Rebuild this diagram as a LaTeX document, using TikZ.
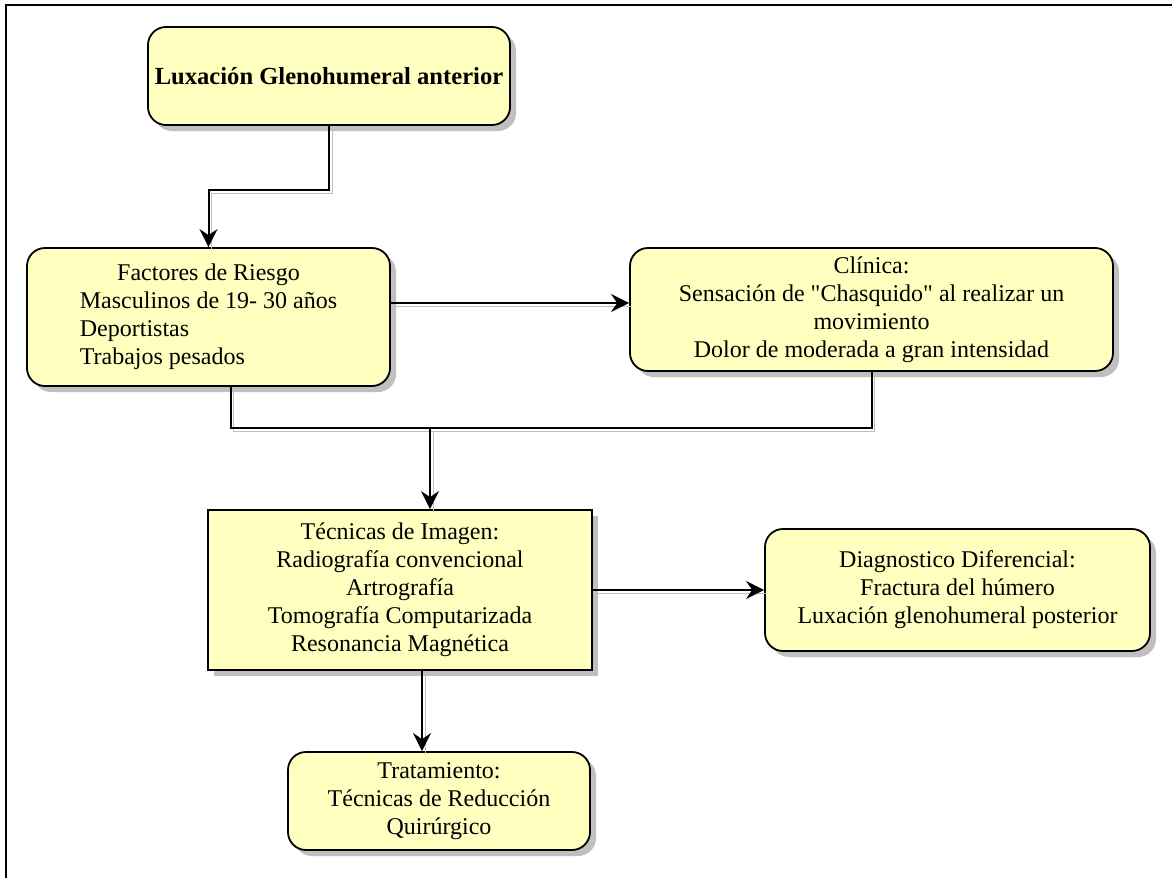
\documentclass[tikz,border=0pt]{standalone}
\usepackage{fontspec}
\newfontfamily\boxfont{Liberation Serif}
\usetikzlibrary{arrows.meta,shadows}

\definecolor{notefill}{RGB}{255,255,192}

\begin{document}
\begin{tikzpicture}[x=0.5pt,y=-0.5pt,
  box/.style={draw=black, line width=0.9pt, fill=notefill, rounded corners=9pt,
    drop shadow={shadow xshift=3pt,shadow yshift=-3pt,fill=black!25,opacity=1},
    font=\boxfont\fontsize{12}{14}\selectfont, align=center, inner sep=0pt},
  sqbox/.style={box, sharp corners},
  link/.style={draw=black, line width=1pt,
    preaction={draw=black!25, -, transform canvas={shift={(1.6pt,-1.6pt)}}}},
  conn/.style={link, -{Stealth[length=9pt,width=9pt,inset=3pt]}}]
\useasboundingbox (0,0) rectangle (1172,878);

% frame
\draw[line width=1pt] (6,878) -- (6,5) -- (1172,5);

% boxes
\node[box, minimum width=181pt, minimum height=49pt, font=\boxfont\fontsize{12.3}{14}\selectfont\bfseries] (lux) at (329,76) {Luxación Glenohumeral anterior};
\node[box, minimum width=181.5pt, minimum height=69pt] (riesgo) at (208.5,317)
  {\begin{tabular}{@{}l@{}}\multicolumn{1}{@{}c@{}}{Factores de Riesgo}\\ Masculinos de 19- 30 años\\ Deportistas\\ Trabajos pesados\end{tabular}};
\node[box, minimum width=241.5pt, minimum height=61.5pt] (clinica) at (871.5,309.5)
  {Clínica:\\ Sensación de "Chasquido" al realizar un\\ movimiento\\ Dolor de moderada a gran intensidad};
\node[sqbox, minimum width=192pt, minimum height=80pt] (imagen) at (400,590)
  {Técnicas de Imagen:\\ Radiografía convencional\\ Artrografía\\ Tomografía Computarizada\\ Resonancia Magnética};
\node[box, minimum width=192.5pt, minimum height=61pt] (diag) at (957.5,590)
  {Diagnostico Diferencial:\\ Fractura del húmero\\ Luxación glenohumeral posterior};
\node[box, minimum width=151pt, minimum height=49pt] (trat) at (439,801)
  {Tratamiento:\\ Técnicas de Reducción\\ Quirúrgico};

% connectors
\coordinate (codo) at (0,190);
\coordinate (union) at (430,428);
\draw[conn] (lux.south) -- (lux.south |- codo) -| (riesgo.north);
\draw[conn] ([yshift=3.25pt]clinica.west -| riesgo.east) -- ([yshift=3.25pt]clinica.west);
\draw[link] ([xshift=11pt]riesgo.south) |- (union) -| (clinica.south);
\draw[conn] (union) -- (union |- imagen.north);
\draw[conn] (imagen.east) -- (diag.west);
\draw[conn] ([xshift=11pt]imagen.south) -- ([xshift=11pt]imagen.south |- trat.north);

\end{tikzpicture}
\end{document}
